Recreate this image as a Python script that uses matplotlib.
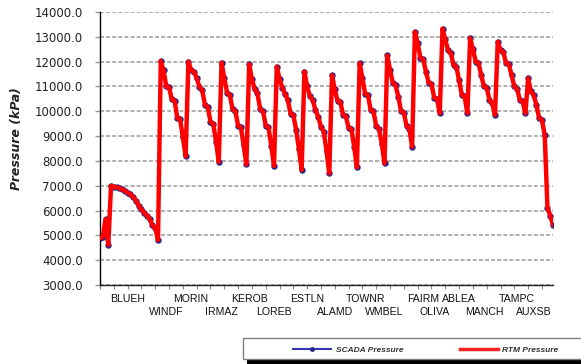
import matplotlib
matplotlib.use('Agg')
import matplotlib.pyplot as plt
from matplotlib.lines import Line2D
from matplotlib.patches import Rectangle
from matplotlib.ticker import MultipleLocator, FormatStrFormatter

# ---------------- data ----------------
station_labels = ["BLUEH", "WINDF", "MORIN", "IRMAZ", "KEROB", "LOREB", "ESTLN", "ALAMD",
                  "TOWNR", "WMBEL", "FAIRM", "OLIVA", "ABLEA", "MANCH", "TAMPC", "AUXSB"]
station_label_index = [10, 24, 33, 44, 54, 63, 75, 85, 96, 103, 117, 121, 130, 139, 151, 157]

rtm_pressure = [
    4880, 4950, 5650, 4610, 7000, 6960, 6940, 6900, 6850, 6800, 6720, 6650, 6550, 6400, 6200, 6050,
    5900, 5800, 5660, 5400, 5300, 4810,
    12030, 11650, 11000, 10960, 10480, 10430, 9730, 9680, 8950, 8180,
    12000, 11660, 11600, 11330, 10990, 10860, 10250, 10180, 9580, 9500, 8780, 7960,
    11960, 11330, 10750, 10650, 10080, 10000, 9420, 9350, 8640, 7860,
    11900, 11290, 10900, 10720, 10080, 10000, 9420, 9350, 8620, 7800,
    11800, 11300, 10950, 10700, 10450, 9900, 9850, 9250, 8500, 7640,
    11600, 11000, 10600, 10450, 10050, 9780, 9380, 9180, 8400, 7500,
    11450, 10880, 10420, 10380, 9850, 9800, 9330, 9280, 8580, 7750,
    11930, 11330, 10700, 10650, 10050, 10000, 9400, 9300, 8700, 7900,
    12250, 11660, 11150, 11050, 10590, 10000, 9950, 9400, 9300, 8570,
    13200, 12750, 12150, 12100, 11600, 11150, 11100, 10550, 10500, 9920,
    13330, 12900, 12450, 12350, 11850, 11800, 11250, 10650, 10600, 9920,
    12940, 12520, 12000, 11950, 11460, 11000, 10950, 10450, 10320, 9850,
    12800, 12450, 12400, 11930, 11900, 11460, 11000, 10900, 10450, 10400, 9920,
    11330, 10800, 10650, 10250, 9720, 9650, 9040, 6100, 5800, 5420,
]

scada_pressure = [
    4880, 4950, 5650, 4610, 7000, 6960, 6940, 6900, 6850, 6800, 6720, 6650, 6550, 6400, 6200, 6050,
    5900, 5800, 5660, 5400, 5300, 4810,
    12030, 11650, 11000, 10960, 10480, 10430, 9730, 9680, 8950, 8180,
    12000, 11660, 11600, 11330, 10990, 10860, 10250, 10180, 9580, 9500, 8780, 7960,
    11960, 11330, 10750, 10650, 10080, 10000, 9420, 9350, 8640, 7860,
    11900, 11290, 10900, 10720, 10080, 10000, 9420, 9350, 8620, 7800,
    11800, 11300, 10950, 10700, 10450, 9900, 9850, 9250, 8500, 7640,
    11600, 11000, 10600, 10450, 10050, 9780, 9380, 9180, 8400, 7500,
    11450, 10880, 10420, 10380, 9850, 9800, 9330, 9280, 8580, 7750,
    11930, 11330, 10700, 10650, 10050, 10000, 9400, 9300, 8700, 7900,
    12250, 11660, 11150, 11050, 10590, 10000, 9950, 9400, 9300, 8570,
    13200, 12750, 12150, 12100, 11600, 11150, 11100, 10550, 10500, 9920,
    13330, 12900, 12450, 12350, 11850, 11800, 11250, 10650, 10600, 9920,
    12940, 12520, 12000, 11950, 11460, 11000, 10950, 10450, 10320, 9850,
    12800, 12450, 12400, 11930, 11900, 11460, 11000, 10900, 10450, 10400, 9920,
    11330, 10800, 10650, 10250, 9720, 9650, 9040, 6100, 5800, 5420,
]

# ---------------- figure ----------------
W, H = 581, 364
fig = plt.figure(figsize=(W / 100, H / 100), dpi=100)
ax = fig.add_axes([100 / W, 1 - 285 / H, 453 / W, 273 / H])

x = list(range(len(rtm_pressure)))
blue = '#26268f'
ax.plot(x, scada_pressure, color=blue, lw=1.0, marker='o', ms=3.6,
        markerfacecolor=blue, markeredgecolor=blue, zorder=2)
ax.plot(x, rtm_pressure, color='#ff0000', lw=3.2, zorder=3, solid_joinstyle='round')

ax.set_xlim(0, len(rtm_pressure) - 1)
ax.set_ylim(3000, 14000)
ax.yaxis.set_major_locator(MultipleLocator(1000))
ax.yaxis.set_major_formatter(FormatStrFormatter('%.1f'))
ax.grid(axis='y', ls=(0, (2.6, 1.4)), color='#9a9a9a', lw=1.1)
ax.set_axisbelow(True)

for s in ['top', 'right']:
    ax.spines[s].set_visible(False)
ax.spines['left'].set_color('black')
ax.spines['left'].set_linewidth(1.0)
ax.spines['bottom'].set_color('#222222')
ax.spines['bottom'].set_linewidth(1.0)

ax.set_xticks(range(0, len(rtm_pressure), 5))
ax.set_xticklabels([])
ax.tick_params(axis='x', length=3, color='#888888', width=0.8, direction='out')
ax.tick_params(axis='y', length=3.6, color='#999999', width=1.0, labelsize=8.5,
               labelcolor='#222222', pad=8.5)

# station labels in two staggered rows
for i, (lab, xi) in enumerate(zip(station_labels, station_label_index)):
    yoff = -14 / 273 if i % 2 == 0 else -27 / 273
    ax.text(xi, yoff, lab, transform=ax.get_xaxis_transform(), ha='center', va='center',
            fontsize=7.6, family='Liberation Sans', color='#111111')

fig.text(16.5 / W, 1 - 139 / H, 'Pressure (kPa)', rotation=90, ha='center', va='center',
         fontsize=9, fontstyle='italic', fontweight='bold', color='#222222')

# legend box with shadow
fig.add_artist(Rectangle((247 / W, 1 - 364 / H), 400 / W, 22 / H, transform=fig.transFigure,
                         facecolor='black', edgecolor='none', zorder=5))
fig.add_artist(Rectangle((243 / W, 1 - 359 / H), 400 / W, 21 / H, transform=fig.transFigure,
                         facecolor='white', edgecolor='#808080', lw=1.0, zorder=6))
handles = [Line2D([], [], color='#3535b0', lw=1.5, marker='o', ms=2.5, markevery=[1],
                  markerfacecolor=blue, markeredgecolor=blue),
           Line2D([], [], color='#ff2020', lw=2.5)]
leg = fig.legend(handles, ['SCADA Pressure', 'RTM Pressure'], loc='center left',
                 bbox_to_anchor=(293 / W, 1 - 350 / H), ncol=2, frameon=False,
                 borderpad=0, borderaxespad=0, handlelength=4.6, handletextpad=0.5,
                 columnspacing=6.8,
                 prop={'family': 'Liberation Sans', 'style': 'italic', 'weight': 'bold', 'size': 6.0})
leg.set_zorder(7)
for t in leg.get_texts():
    t.set_color('#333333')

fig.savefig('out.png', dpi=100)
